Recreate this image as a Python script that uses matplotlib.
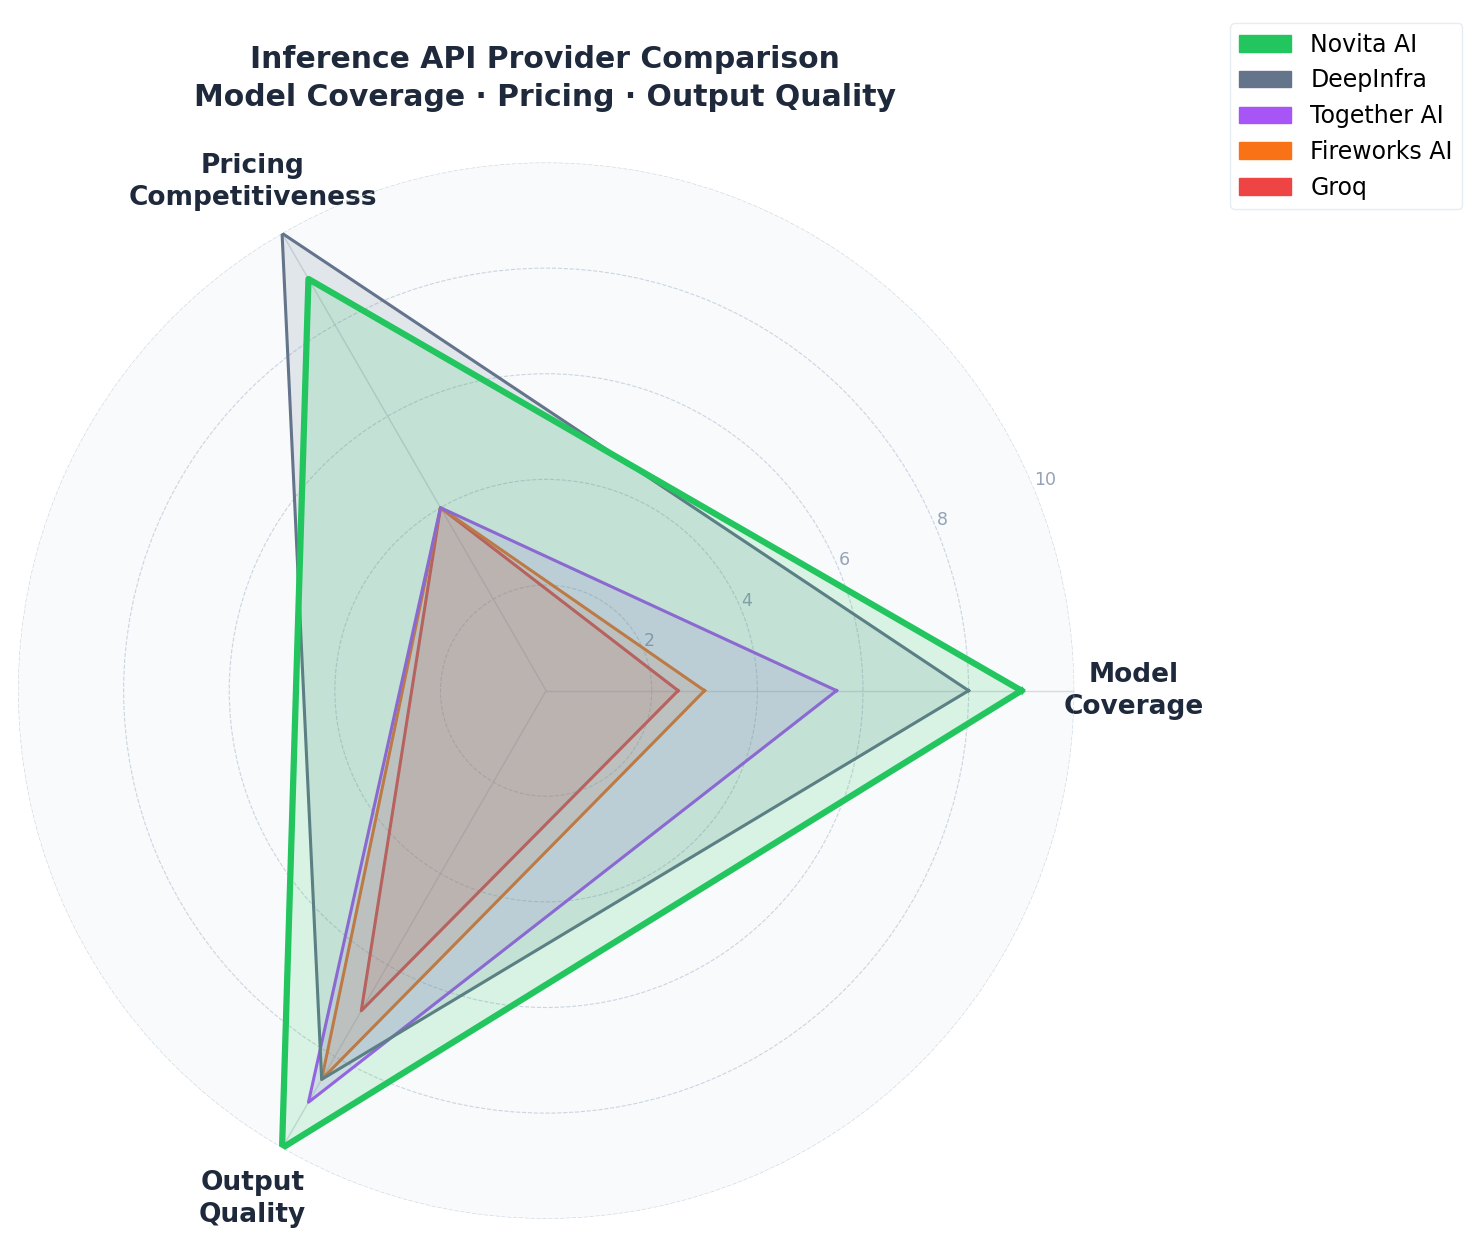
import matplotlib.pyplot as plt
import numpy as np
from matplotlib.patches import Patch

# -- Data --
categories = ["Model\nCoverage", "Pricing\nCompetitiveness", "Output\nQuality"]
providers = ["Novita AI", "DeepInfra", "Together AI", "Fireworks AI", "Groq"]
colors = ["#22c55e", "#64748b", "#a855f7", "#f97316", "#ef4444"]

novita = [9.0, 9.0, 10.0]
deepinfra = [8.0, 10.0, 8.5]
together = [5.5, 4.0, 9.0]
fireworks = [3.0, 4.0, 8.5]
groq = [2.5, 4.0, 7.0]
scores = [novita, deepinfra, together, fireworks, groq]

r_ticks = [2, 4, 6, 8, 10]

# -- Plot --
angles = np.linspace(0, 2 * np.pi, len(categories), endpoint=False)
closed = np.concatenate([angles, angles[:1]])

fig = plt.figure(figsize=(14.8, 12.5), dpi=100)
ax = fig.add_axes([0.012, 0.025, 0.714, 0.845], projection="polar")
ax.set_facecolor("#f8fafc")

# draw from back to front so Novita sits on top, fills cover earlier lines
for name, vals, col in reversed(list(zip(providers, scores, colors))):
    v = np.array(vals + vals[:1])
    lw = 4.5 if name == "Novita AI" else 2.2
    ax.plot(closed, v, color=col, linewidth=lw, zorder=2)
    ax.fill(closed, v, color=col, alpha=0.15, zorder=2)

ax.set_ylim(0, 10)
ax.set_yticks(r_ticks)
ax.set_yticklabels([str(t) for t in r_ticks], color="#94a3b8", fontsize=12.5)
ax.set_rlabel_position(22.5)
ax.set_xticks(angles)
ax.set_xticklabels(categories, fontsize=19, fontweight="bold", color="#1e293b",
                   linespacing=1.3)
ax.tick_params(axis="x", pad=32)
ax.yaxis.grid(True, color="#cbd5e1", linestyle="--", linewidth=0.8)
ax.xaxis.grid(True, color="#d5dbe2", linestyle="-", linewidth=1)
ax.spines["polar"].set_visible(False)

fig.text(0.368, 0.937, "Inference API Provider Comparison\nModel Coverage · Pricing · Output Quality",
         ha="center", va="center", fontsize=21.5, fontweight="bold", color="#1e293b",
         linespacing=1.4)

handles = [Patch(facecolor=c, edgecolor=c, label=p) for p, c in zip(providers, colors)]
fig.legend(handles=handles, loc="upper right", bbox_to_anchor=(0.996, 0.991),
           fontsize=17, frameon=True, edgecolor="#e2e8f0", handlelength=2.2)

fig.savefig("out.png", dpi=100)
